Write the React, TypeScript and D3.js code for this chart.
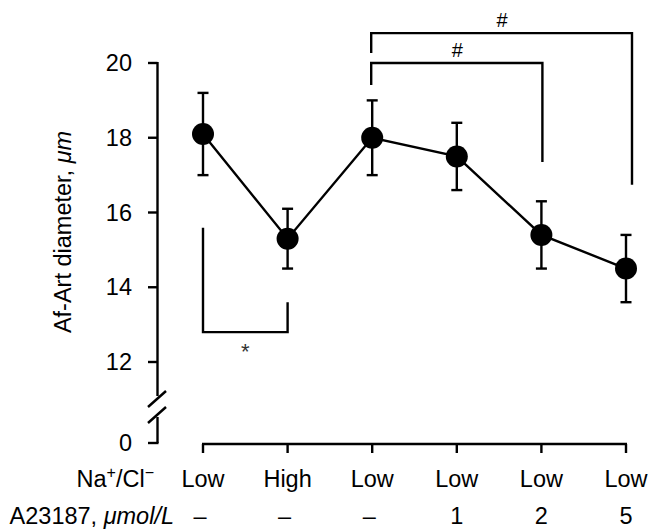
import React from "react";
import * as d3 from "d3";

const naclLabels = ["Low", "High", "Low", "Low", "Low", "Low"];
const a23187Labels = ["–", "–", "–", "1", "2", "5"];
const means = [18.1, 15.3, 18.0, 17.5, 15.4, 14.5];
const upper = [19.2, 16.1, 19.0, 18.4, 16.3, 15.4];
const lower = [17.0, 14.5, 17.0, 16.6, 14.5, 13.6];
const yTicks = [12, 14, 16, 18, 20];

// significance brackets: [fromIndex, toIndex, leftBottom, top, rightBottom, symbol]
const upperBrackets: [number, number, number, number, number, string][] = [
  [2, 5, 20.27, 20.8, 16.74, "#"],
  [2, 4, 19.41, 20.0, 17.35, "#"],
];
const lowerBracket: [number, number, number, number, number, string] = [0, 1, 15.59, 12.8, 13.6, "*"];

const W = 649;
const H = 530;
const FONT = "'Liberation Sans', Arial, Helvetica, sans-serif";
const FS = 23.5;
const SW = 2.4;

export default function App() {
  const x = d3.scalePoint<number>().domain(d3.range(means.length)).range([203, 626]);
  const y = d3.scaleLinear().domain([12, 20]).range([362, 63]);
  const yZero = 443;
  const axisX = 157.5;
  const xAxisY = 444;

  const line = d3
    .line<number>()
    .x((_, i) => x(i)!)
    .y((d) => y(d));

  return (
    <svg
      width={W}
      height={H}
      style={{ position: "absolute", left: 0, top: 0, background: "#fff" }}
      fontFamily={FONT}
    >
      {/* Y axis upper segment */}
      <line x1={axisX} x2={axisX} y1={y(20) - 1} y2={396} stroke="#000" strokeWidth={SW} />
      {/* break slashes */}
      <line x1={148} y1={407} x2={166} y2={391} stroke="#000" strokeWidth={SW} />
      <line x1={148} y1={423} x2={166} y2={407} stroke="#000" strokeWidth={SW} />
      {/* lower segment */}
      <line x1={axisX} x2={axisX} y1={417} y2={yZero} stroke="#000" strokeWidth={SW} />
      <line x1={148} x2={axisX + 1} y1={yZero} y2={yZero} stroke="#000" strokeWidth={SW} />
      <text x={132} y={yZero} fontSize={FS} textAnchor="end" dominantBaseline="central">
        0
      </text>
      {yTicks.map((t) => (
        <g key={t}>
          <line x1={148} x2={axisX} y1={y(t)} y2={y(t)} stroke="#000" strokeWidth={SW} />
          <text x={132} y={y(t)} fontSize={FS} textAnchor="end" dominantBaseline="central">
            {t}
          </text>
        </g>
      ))}
      <text transform={`translate(71,232) rotate(-90)`} fontSize={FS} textAnchor="middle">
        Af-Art diameter, <tspan fontStyle="italic">μm</tspan>
      </text>

      {/* X axis */}
      <line x1={x(0)! - 1} x2={x(5)! + 1} y1={xAxisY} y2={xAxisY} stroke="#000" strokeWidth={SW} />
      {means.map((_, i) => (
        <line key={i} x1={x(i)} x2={x(i)} y1={xAxisY} y2={453} stroke="#000" strokeWidth={SW} />
      ))}
      <text x={154} y={487} fontSize={FS} textAnchor="end">
        Na<tspan fontSize={16} dy={-9}>+</tspan>
        <tspan dy={9}>/Cl</tspan>
        <tspan fontSize={16} dy={-9}>−</tspan>
      </text>
      <text x={174} y={524} fontSize={FS} textAnchor="end">
        A23187, <tspan fontStyle="italic">μmol/L</tspan>
      </text>
      {naclLabels.map((l, i) => (
        <text key={i} x={x(i)} y={487} fontSize={FS} textAnchor="middle">
          {l}
        </text>
      ))}
      {a23187Labels.map((l, i) => (
        <text key={i} x={x(i)! - (i < 3 ? 3 : 0)} y={524} fontSize={FS} textAnchor="middle">
          {l}
        </text>
      ))}

      {/* brackets */}
      {upperBrackets.map(([a, b, lb, top, rb, s], k) => (
        <g key={k}>
          <path
            d={`M${x(a)! - 1},${y(lb)}V${y(top)}H${x(b)! + (b === 5 ? 6 : 1)}V${y(rb)}`}
            fill="none"
            stroke="#000"
            strokeWidth={SW}
          />
          <text
            x={(x(a)! + x(b)! + (b === 5 ? 6 : 1)) / 2}
            y={y(top) - 13}
            fontSize={20}
            textAnchor="middle"
            dominantBaseline="central"
          >
            {s}
          </text>
        </g>
      ))}
      <path
        d={`M${x(lowerBracket[0])},${y(lowerBracket[2])}V${y(lowerBracket[3])}H${x(lowerBracket[1])}V${y(
          lowerBracket[4]
        )}`}
        fill="none"
        stroke="#000"
        strokeWidth={SW}
      />
      <text
        x={(x(lowerBracket[0])! + x(lowerBracket[1])!) / 2}
        y={y(lowerBracket[3]) + 19}
        fontSize={22}
        textAnchor="middle"
        dominantBaseline="central"
        fill="#333"
      >
        {lowerBracket[5]}
      </text>

      {/* data line */}
      <path d={line(means)!} fill="none" stroke="#000" strokeWidth={SW} />
      {/* error bars */}
      {means.map((_, i) => (
        <g key={i} stroke="#000" strokeWidth={SW}>
          <line x1={x(i)} x2={x(i)} y1={y(upper[i])} y2={y(lower[i])} />
          <line x1={x(i)! - 5.5} x2={x(i)! + 5.5} y1={y(upper[i])} y2={y(upper[i])} />
          <line x1={x(i)! - 5.5} x2={x(i)! + 5.5} y1={y(lower[i])} y2={y(lower[i])} />
        </g>
      ))}
      {means.map((m, i) => (
        <circle key={i} cx={x(i)} cy={y(m)} r={11} fill="#000" />
      ))}
    </svg>
  );
}
